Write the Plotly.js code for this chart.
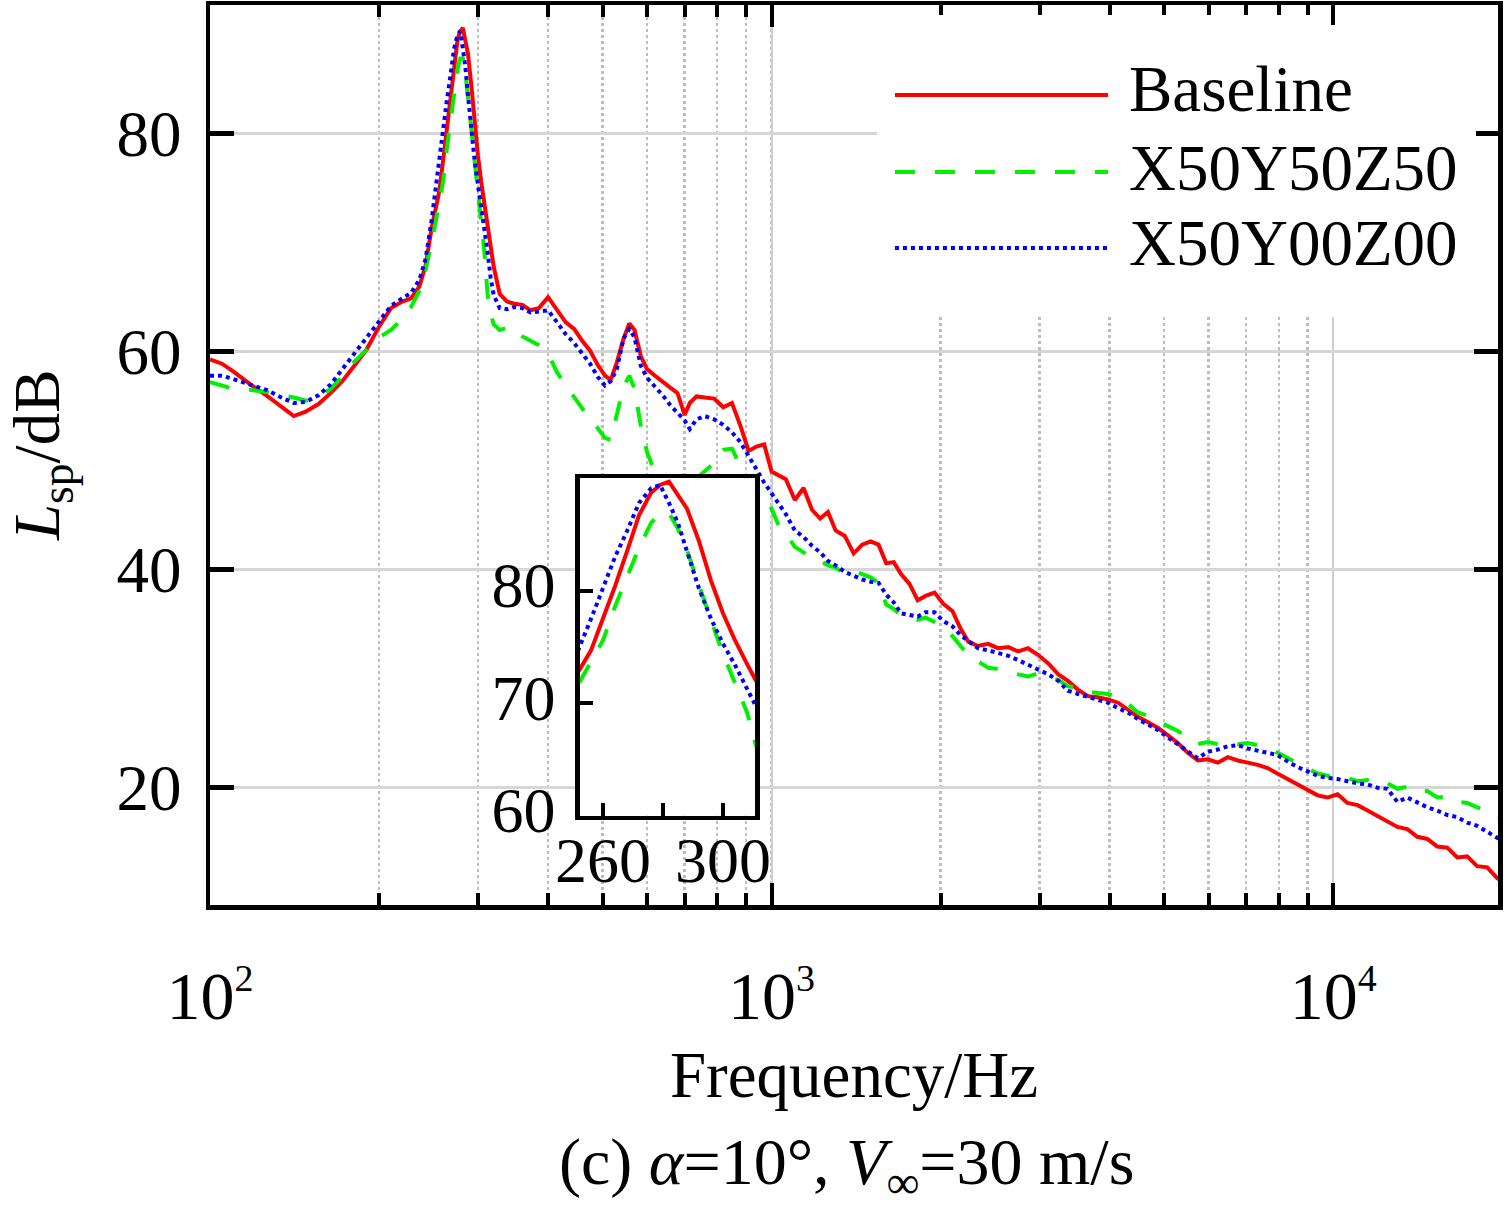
<!DOCTYPE html>
<html><head><meta charset="utf-8">
<script src="https://cdn.plot.ly/plotly-3.0.1.min.js"></script>
<style>html,body{margin:0;padding:0;background:#fff}#chart{width:1504px;height:1213px}</style>
</head><body><div id="chart"></div>
<script>
// ---- data ----
const freq = [
 100,105,110,118,126,134,141,148,156,164,
 172,180,190,200,210,220,228,236,242,248,
 252,256,260,264,268,272,276,279,282,285,
 288,292,296,300,304,308,312,316,320,328,
 338,348,360,372,385,400,415,430,445,460,
 475,490,505,517,530,545,558,570,585,600,
 620,640,660,680,700,715,735,760,790,820,
 850,880,910,940,970,1000,1030,1060,1100,1140,
 1180,1220,1260,1300,1350,1400,1450,1500,1550,1600,
 1650,1700,1760,1820,1880,1950,2020,2100,2170,2240,
 2330,2430,2530,2640,2750,2860,2980,3110,3240,3370,
 3510,3660,3810,3970,4140,4310,4490,4680,4870,5080,
 5290,5510,5740,5980,6230,6490,6760,7040,7340,7640,
 7960,8300,8640,9000,9380,9770,10180,10600,11050,11510,
 11990,12490,13010,13550,14120,14710,15320,15960,16630,17320,
 18040,18800,19590,20000
];
const baseline = [
 59.3,58.9,58.2,57.0,56.0,55.0,54.1,54.5,55.2,56.2,
 57.3,58.6,60.2,62.3,64.0,64.6,64.9,66.0,67.9,71.3,
 72.9,74.7,77.5,80.4,83.5,86.7,88.7,89.4,89.7,88.5,
 87.3,84.4,80.9,78.0,75.6,73.5,71.4,69.5,67.8,65.3,
 64.6,64.4,64.3,63.8,64.0,65.0,63.8,62.7,62.1,61.0,
 60.1,58.8,57.8,57.4,59.0,61.2,62.6,62.0,59.6,58.4,
 57.8,57.2,56.7,56.2,54.2,55.3,55.9,55.8,55.7,54.9,
 55.3,53.2,50.9,51.3,51.5,49.0,48.6,48.3,46.4,47.5,
 45.5,44.7,45.3,43.6,43.1,41.5,42.3,42.6,42.3,40.6,
 40.7,39.6,38.7,37.2,37.6,37.9,36.9,36.2,34.6,33.4,
 33.0,33.2,32.8,32.9,32.5,32.8,32.2,31.4,30.4,29.8,
 29.0,28.4,28.3,28.1,27.8,27.2,26.5,26.0,25.5,24.8,
 24.1,23.2,22.5,22.6,22.3,22.8,22.5,22.3,22.1,21.8,
 21.3,20.8,20.3,19.8,19.3,19.1,19.4,18.6,18.4,17.9,
 17.4,17.0,16.4,16.2,15.5,15.3,14.6,14.5,13.6,13.7,
 12.8,12.7,11.7,11.4
];
const x50y50z50 = [
 57.2,56.9,56.6,56.5,56.3,56.0,55.8,55.5,55.8,56.6,
 57.7,59.0,60.2,61.3,62.0,63.0,64.1,65.6,67.5,70.0,
 71.8,73.7,75.6,78.6,81.3,83.8,86.0,86.9,86.9,85.5,
 83.6,80.4,77.4,74.4,71.8,69.2,65.3,63.5,62.5,62.0,
 62.2,62.2,61.4,61.0,60.6,59.8,58.1,56.9,55.8,54.8,
 53.8,53.0,52.1,51.9,54.2,56.8,57.8,56.6,53.2,50.8,
 48.9,48.0,47.5,47.3,47.4,47.8,48.4,49.0,49.8,51.0,
 51.1,49.5,47.9,47.0,46.6,45.6,44.0,43.3,42.1,41.6,
 41.0,40.8,40.4,40.2,39.6,39.9,39.6,39.3,38.8,36.8,
 36.4,35.8,35.5,35.4,35.6,35.2,34.7,33.9,33.0,32.2,
 31.6,31.0,30.9,30.7,30.4,30.2,30.5,30.1,29.9,29.3,
 29.2,28.8,28.7,28.6,28.3,27.7,26.9,26.6,26.1,25.6,
 25.2,24.6,24.0,24.2,24.0,24.2,24.0,24.1,23.9,23.7,
 23.2,22.7,22.2,21.7,21.3,21.1,20.8,20.9,20.6,20.7,
 20.3,20.4,19.9,20.1,19.6,19.7,19.1,19.2,18.7,18.6,
 18.2,17.9,17.4,17.1
];
const x50y00z00 = [
 57.8,57.8,57.5,57.0,56.5,55.8,55.3,55.4,56.0,57.0,
 58.4,59.6,61.2,62.8,64.2,64.9,65.4,66.6,68.5,72.0,
 74.9,77.5,80.3,83.0,85.3,87.8,89.1,89.4,87.8,86.0,
 83.5,80.2,77.5,75.3,73.4,71.4,69.2,66.8,65.2,64.0,
 63.9,64.1,64.0,63.6,63.7,63.8,62.7,61.6,60.8,59.8,
 58.9,57.7,56.9,57.3,58.4,61.2,62.1,61.3,58.7,57.6,
 56.8,56.0,55.1,54.4,53.7,52.9,53.8,54.1,53.8,53.3,
 52.6,51.7,50.5,49.2,48.0,47.0,45.9,45.1,43.6,43.0,
 42.2,41.6,40.8,40.4,39.8,39.4,39.1,38.9,38.8,37.7,
 37.0,36.0,35.8,35.7,36.1,36.1,35.3,34.8,34.0,33.5,
 32.8,32.6,32.4,32.1,31.7,31.3,30.9,30.4,29.8,28.9,
 28.6,28.3,28.1,27.8,27.3,26.9,26.3,25.8,25.3,24.6,
 24.0,23.3,22.7,23.3,23.5,23.8,23.9,23.6,23.4,23.2,
 23.0,22.4,21.9,21.5,21.1,20.9,20.8,20.6,20.4,20.3,
 20.0,19.9,18.7,19.1,18.6,18.2,17.9,17.5,17.3,16.8,
 16.5,16.0,15.4,15.1
];
const seriesNames = ['Baseline', 'X50Y50Z50', 'X50Y00Z00'];
const xTickVals = [100, 1000, 10000];
const xTickExp = ['2', '3', '4'];
const yTickVals = [20, 40, 60, 80];
const insetXTickVals = [260, 300];
const insetXMinorTickVals = [280];
const insetYTickVals = [60, 70, 80];

// ---- styling ----
const FONT = '"Liberation Serif","Times New Roman",Times,serif';
const seriesStyle = [
  {color: '#ff0000', dash: 'solid'},
  {color: '#00f000', dash: '20px,20px'},
  {color: '#0000ff', dash: '4px,4px'}
];
const seriesValues = [baseline, x50y50z50, x50y00z00];
const xTickText = xTickExp.map(function (e) {
  return '10<sup><span style="font-size:38px">' + e + '</span></sup>';
});

const traces = [];
['x', 'x2'].forEach(function (ax, k) {
  seriesValues.forEach(function (vals, i) {
    traces.push({
      type: 'scatter', mode: 'lines',
      x: freq, y: vals, name: seriesNames[i],
      xaxis: ax, yaxis: k === 0 ? 'y' : 'y2',
      line: {color: seriesStyle[i].color, width: 4, dash: seriesStyle[i].dash},
      showlegend: false, hoverinfo: 'skip'
    });
  });
});
// empty trace that creates the white legend-box subplot (covers the grid behind the legend)
traces.push({type: 'scatter', mode: 'lines', x: [], y: [], xaxis: 'x3', yaxis: 'y3',
             showlegend: false, hoverinfo: 'skip'});

const legendRowsY = [0.9, 0.8144, 0.73];
const legendTextY = [0.9066, 0.8194, 0.7355];
const shapes = [];
const annotations = [];
seriesNames.forEach(function (nm, i) {
  shapes.push({type: 'line', xref: 'paper', yref: 'paper', layer: 'above',
    x0: 0.5318, x1: 0.6972, y0: legendRowsY[i], y1: legendRowsY[i],
    line: {color: seriesStyle[i].color, width: 4, dash: seriesStyle[i].dash}});
  annotations.push({xref: 'paper', yref: 'paper', x: 0.712, y: legendTextY[i],
    xanchor: 'left', yanchor: 'middle', showarrow: false, text: nm,
    font: {family: FONT, size: 65, color: '#000'}});
});
// y-axis title
annotations.push({xref: 'paper', yref: 'paper', x: -0.1304, y: 0.5,
  xanchor: 'center', yanchor: 'middle', showarrow: false, textangle: -90,
  text: '<i>L</i><sub>sp</sub>/dB',
  font: {family: FONT, size: 65, color: '#000'}});
// caption
annotations.push({xref: 'paper', yref: 'paper', x: 0.4938, y: -0.290,
  xanchor: 'center', yanchor: 'middle', showarrow: false,
  text: '(c) <i>α</i>=10°, <i>V</i><sub>∞</sub>=30 m/s',
  font: {family: FONT, size: 66, color: '#000'}});

const layout = {
  width: 1504, height: 1213,
  margin: {l: 210, r: 6, t: 5, b: 308, pad: 0},
  paper_bgcolor: '#ffffff', plot_bgcolor: '#ffffff',
  font: {family: FONT, size: 65, color: '#000'},
  showlegend: false,
  xaxis: {
    type: 'log', range: [2, 4.2934], tickmode: 'array', tickvals: xTickVals, ticktext: xTickText,
    showline: true, linewidth: 4.5, linecolor: '#000', mirror: 'ticks',
    ticks: 'inside', ticklen: 22, tickwidth: 4, tickcolor: '#000',
    tickfont: {family: FONT, size: 68, color: '#000'}, ticklabelstandoff: 28,
    showgrid: true, gridcolor: '#cfcfcf', gridwidth: 2,
    minor: {dtick: 'D1', ticks: 'inside', ticklen: 12, tickwidth: 4, tickcolor: '#000',
            showgrid: true, gridcolor: '#bdbdbd', gridwidth: 2.5, griddash: 'dot'},
    zeroline: false, automargin: false, fixedrange: true,
    title: {text: 'Frequency/Hz', font: {family: FONT, size: 65, color: '#000'}, standoff: 20}
  },
  yaxis: {
    range: [9.24, 91.81], tickmode: 'array', tickvals: yTickVals,
    showline: true, linewidth: 4.5, linecolor: '#000', mirror: 'ticks',
    ticks: 'inside', ticklen: 24, tickwidth: 4.5, tickcolor: '#000',
    tickfont: {family: FONT, size: 65, color: '#000'}, ticklabelstandoff: 11,
    showgrid: true, gridcolor: '#d6d6d6', gridwidth: 2.5,
    zeroline: false, automargin: false, fixedrange: true
  },
  xaxis2: {
    domain: [0.2871, 0.4233], anchor: 'y2', range: [252.25, 310.75],
    tickmode: 'array', tickvals: insetXTickVals,
    minor: {tickmode: 'array', tickvals: insetXMinorTickVals, ticks: 'inside', ticklen: 13, tickwidth: 4, tickcolor: '#000', showgrid: false},
    showline: true, linewidth: 4.5, linecolor: '#000', mirror: true,
    ticks: 'inside', ticklen: 13, tickwidth: 4, tickcolor: '#000',
    tickfont: {family: FONT, size: 64, color: '#000'}, ticklabelstandoff: -15,
    showgrid: false, zeroline: false, automargin: false, fixedrange: true
  },
  yaxis2: {
    domain: [0.0992, 0.4742], anchor: 'x2', range: [60, 90],
    tickmode: 'array', tickvals: insetYTickVals,
    showline: true, linewidth: 4.5, linecolor: '#000', mirror: true,
    ticks: 'inside', ticklen: 13, tickwidth: 4, tickcolor: '#000',
    tickfont: {family: FONT, size: 64, color: '#000'}, ticklabelstandoff: 7, ticklabelshift: -6,
    showgrid: false, zeroline: false, automargin: false, fixedrange: true
  },
  // white legend box subplot: same scale as the main axes over its own area, redrawing the ticks on top
  xaxis3: {
    domain: [0.51786, 1], anchor: 'y3', side: 'top', type: 'log', range: [3.18766, 4.2934],
    dtick: 1, tick0: 0, ticks: 'inside', ticklen: 20, tickwidth: 4, tickcolor: '#000',
    minor: {dtick: 'D1', ticks: 'inside', ticklen: 10, tickwidth: 4, tickcolor: '#000', showgrid: false},
    showticklabels: false, showline: false, showgrid: false, zeroline: false, fixedrange: true
  },
  yaxis3: {
    domain: [0.65333, 1], anchor: 'x3', side: 'right', range: [63.186, 91.81],
    tickmode: 'array', tickvals: [80], ticks: 'inside', ticklen: 22, tickwidth: 4.5, tickcolor: '#000',
    showticklabels: false, showline: false, showgrid: false, zeroline: false, fixedrange: true
  },
  shapes: shapes,
  annotations: annotations
};

Plotly.newPlot('chart', traces, layout, {displayModeBar: false, staticPlot: true});
</script>
</body></html>
